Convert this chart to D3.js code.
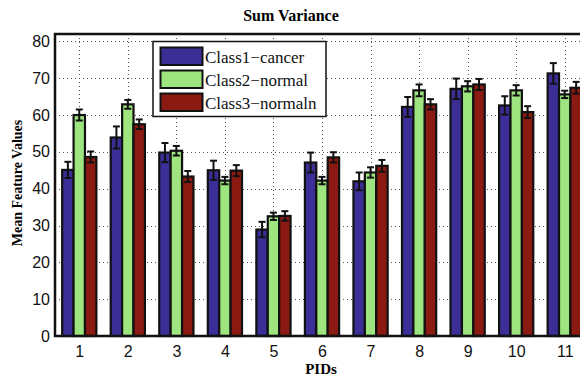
<!DOCTYPE html>
<html>
<head>
<meta charset="utf-8">
<script src="https://cdn.jsdelivr.net/npm/d3@7"></script>
<style>
  body { margin: 0; background: #fff; }
  svg { display: block; }
</style>
</head>
<body>
<div id="chart"></div>
<script>
const PIDS = [1, 2, 3, 4, 5, 6, 7, 8, 9, 10, 11];
const CLASSES = ["Class1\u2212cancer", "Class2\u2212normal", "Class3\u2212normaln"];
const CLASS1_MEAN = [45.1, 53.9, 49.8, 45.0, 28.9, 47.1, 42.0, 62.2, 67.1, 62.6, 71.3];
const CLASS1_ERR = [2.2, 3.0, 2.6, 2.6, 2.1, 2.7, 2.4, 2.7, 2.8, 2.5, 2.8];
const CLASS2_MEAN = [60.0, 62.9, 50.3, 42.2, 32.5, 42.2, 44.4, 66.7, 67.8, 66.7, 65.6];
const CLASS2_ERR = [1.5, 1.2, 1.3, 1.0, 1.0, 1.0, 1.4, 1.6, 1.4, 1.4, 1.0];
const CLASS3_MEAN = [48.6, 57.5, 43.3, 44.9, 32.6, 48.5, 46.2, 62.9, 68.3, 60.8, 67.4];
const CLASS3_ERR = [1.5, 1.3, 1.5, 1.5, 1.3, 1.4, 1.6, 1.4, 1.5, 1.6, 1.6];
const Y_TICKS = [0, 10, 20, 30, 40, 50, 60, 70, 80];

const COLORS = ["#3b2f97", "#9fe57f", "#8a1a12"];

const WIDTH = 580;
const HEIGHT = 378;
const MARGIN = { TOP: 34, LEFT: 55, BOTTOM: 42 };
const PLOT_RIGHT = 589;
const PLOT_BOTTOM = HEIGHT - MARGIN.BOTTOM;

const SERIES = [
  { name: CLASSES[0], mean: CLASS1_MEAN, err: CLASS1_ERR },
  { name: CLASSES[1], mean: CLASS2_MEAN, err: CLASS2_ERR },
  { name: CLASSES[2], mean: CLASS3_MEAN, err: CLASS3_ERR }
];

const SVG = d3.select("#chart").append("svg")
  .attr("width", WIDTH)
  .attr("height", HEIGHT);

const X_SCALE = d3.scaleLinear()
  .domain([0.5, 11.5])
  .range([MARGIN.LEFT, PLOT_RIGHT]);

const Y_SCALE = d3.scaleLinear()
  .domain([0, 82])
  .range([PLOT_BOTTOM, MARGIN.TOP]);

const BAR_W = 11.4;
const GROUP_OFFSET = d3.scaleBand()
  .domain(d3.range(SERIES.length))
  .range([-BAR_W * 1.5, BAR_W * 1.5]);

// dotted grid
const GRID = SVG.append("g").attr("stroke", "#555").attr("stroke-width", 1)
  .attr("stroke-dasharray", "1,3");
GRID.selectAll(".hgrid")
  .data(Y_TICKS.filter((t) => t > 0))
  .enter()
  .append("line")
  .attr("x1", MARGIN.LEFT)
  .attr("x2", PLOT_RIGHT)
  .attr("y1", (d) => Math.round(Y_SCALE(d)) + 0.5)
  .attr("y2", (d) => Math.round(Y_SCALE(d)) + 0.5);
GRID.selectAll(".vgrid")
  .data(PIDS)
  .enter()
  .append("line")
  .attr("x1", (d) => Math.round(X_SCALE(d)) + 0.5)
  .attr("x2", (d) => Math.round(X_SCALE(d)) + 0.5)
  .attr("y1", MARGIN.TOP)
  .attr("y2", PLOT_BOTTOM);

// bars + error bars
SERIES.forEach((s, si) => {
  const G = SVG.append("g");
  G.selectAll("rect")
    .data(PIDS)
    .enter()
    .append("rect")
    .attr("x", (d) => X_SCALE(d) + GROUP_OFFSET(si))
    .attr("y", (d, i) => Y_SCALE(s.mean[i]))
    .attr("width", BAR_W)
    .attr("height", (d, i) => PLOT_BOTTOM - Y_SCALE(s.mean[i]))
    .attr("fill", COLORS[si])
    .attr("stroke", "#111")
    .attr("stroke-width", 2.2);

  const E = SVG.append("g").attr("stroke", "#111").attr("stroke-width", 2);
  PIDS.forEach((p, i) => {
    const cx = X_SCALE(p) + GROUP_OFFSET(si) + BAR_W / 2;
    const lo = Y_SCALE(s.mean[i] - s.err[i]);
    const hi = Y_SCALE(s.mean[i] + s.err[i]);
    E.append("line").attr("x1", cx).attr("x2", cx).attr("y1", lo).attr("y2", hi);
    E.append("line").attr("x1", cx - 3.5).attr("x2", cx + 3.5).attr("y1", lo).attr("y2", lo);
    E.append("line").attr("x1", cx - 3.5).attr("x2", cx + 3.5).attr("y1", hi).attr("y2", hi);
  });
});

// frame
SVG.append("path")
  .attr("d", "M" + PLOT_RIGHT + "," + MARGIN.TOP + "H" + MARGIN.LEFT + "V" + PLOT_BOTTOM + "H" + PLOT_RIGHT)
  .attr("fill", "none")
  .attr("stroke", "#111")
  .attr("stroke-width", 2.5);

// axes
const Y_AXIS = d3.axisLeft(Y_SCALE).tickValues(Y_TICKS).tickSize(0).tickPadding(5);
SVG.append("g")
  .attr("transform", "translate(" + MARGIN.LEFT + ",0)")
  .call(Y_AXIS)
  .call((g) => g.select(".domain").remove())
  .selectAll("text")
  .attr("font-family", "Liberation Sans, Arial, sans-serif")
  .attr("font-size", 16)
  .attr("fill", "#111");

const X_AXIS = d3.axisBottom(X_SCALE).tickValues(PIDS).tickSize(0).tickPadding(10)
  .tickFormat(d3.format("d"));
SVG.append("g")
  .attr("transform", "translate(0," + PLOT_BOTTOM + ")")
  .call(X_AXIS)
  .call((g) => g.select(".domain").remove())
  .selectAll("text")
  .attr("font-family", "Liberation Sans, Arial, sans-serif")
  .attr("font-size", 16)
  .attr("fill", "#111");

// titles
SVG.append("text")
  .attr("x", 291)
  .attr("y", 21)
  .attr("text-anchor", "middle")
  .attr("font-family", "Liberation Serif, Times New Roman, serif")
  .attr("font-weight", "bold")
  .attr("font-size", 16)
  .text("Sum Variance");

SVG.append("text")
  .attr("x", 321)
  .attr("y", 374)
  .attr("text-anchor", "middle")
  .attr("font-family", "Liberation Serif, Times New Roman, serif")
  .attr("font-weight", "bold")
  .attr("font-size", 15)
  .text("PIDs");

SVG.append("text")
  .attr("transform", "translate(22,183) rotate(-90)")
  .attr("text-anchor", "middle")
  .attr("font-family", "Liberation Serif, Times New Roman, serif")
  .attr("font-weight", "bold")
  .attr("font-size", 14)
  .text("Mean Feature Values");

// legend
const LEGEND = SVG.append("g").attr("transform", "translate(153,41.5)");
LEGEND.append("rect")
  .attr("width", 173)
  .attr("height", 75)
  .attr("fill", "#fff")
  .attr("stroke", "#111")
  .attr("stroke-width", 1.5);
SERIES.forEach((s, si) => {
  const row = LEGEND.append("g").attr("transform", "translate(0," + (6 + si * 23) + ")");
  row.append("rect")
    .attr("x", 7.5)
    .attr("width", 42)
    .attr("height", 17.5)
    .attr("fill", COLORS[si])
    .attr("stroke", "#111")
    .attr("stroke-width", 2);
  row.append("text")
    .attr("x", 52)
    .attr("y", 15)
    .attr("font-family", "Liberation Serif, Times New Roman, serif")
    .attr("font-size", 17)
    .attr("fill", "#111")
    .text(s.name);
});
</script>
</body>
</html>
